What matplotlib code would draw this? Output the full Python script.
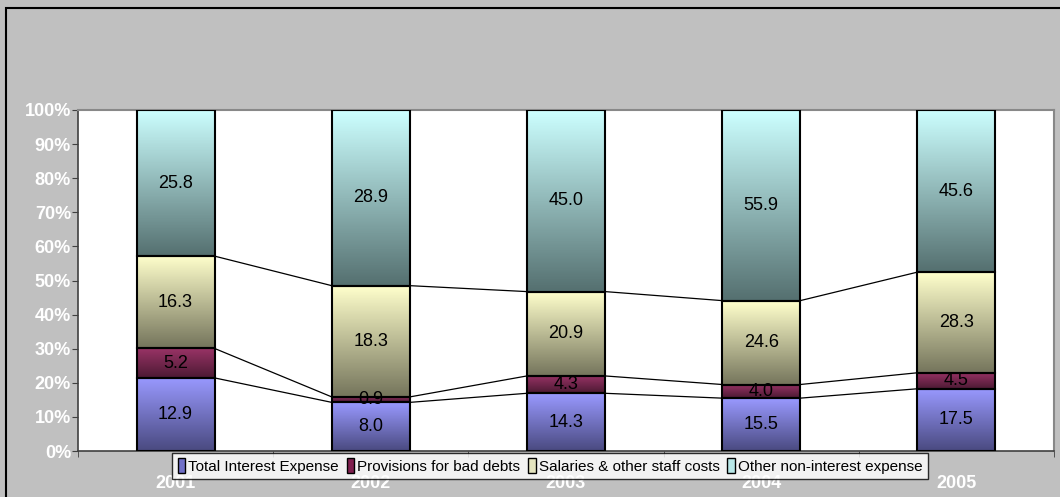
import numpy as np
import matplotlib.pyplot as plt
import matplotlib.patches as mpatches
from matplotlib.colors import LinearSegmentedColormap
from matplotlib import font_manager

years = ["2001", "2002", "2003", "2004", "2005"]
interest = [12.9, 8.0, 14.3, 15.5, 17.5]
provisions = [5.2, 0.9, 4.3, 4.0, 4.5]
salaries = [16.3, 18.3, 20.9, 24.6, 28.3]
other = [25.8, 28.9, 45.0, 55.9, 45.6]
names = ["Total Interest Expense", "Provisions for bad debts",
         "Salaries & other staff costs", "Other non-interest expense"]

# (top colour, bottom colour) for each series
grads = [("#9999FF", "#4A4A80"), ("#993366", "#4C1A33"),
         ("#FFFFCC", "#75755C"), ("#CCFFFF", "#557070")]

avail = {f.name for f in font_manager.fontManager.ttflist}
fam = "Liberation Sans Narrow" if "Liberation Sans Narrow" in avail else "Liberation Sans"
plt.rcParams["font.family"] = [fam, "DejaVu Sans"]

series = np.array([interest, provisions, salaries, other])
pct = series / series.sum(axis=0) * 100
x = np.arange(len(years))
w = 0.4

fig = plt.figure(figsize=(10.6, 4.97), dpi=100, facecolor="#C0C0C0")
ax = fig.add_axes([78 / 1060, 46 / 497, 976 / 1060, 341 / 497])
ax.set_facecolor("white")

bottoms = np.zeros(len(years))
for i in range(4):
    cmap = LinearSegmentedColormap.from_list("g%d" % i, [grads[i][1], grads[i][0]])
    bars = ax.bar(x, pct[i], w, bottom=bottoms, color="none",
                  edgecolor="black", linewidth=1.5, zorder=3)
    for j, b in enumerate(bars):
        y0, y1 = bottoms[j], bottoms[j] + pct[i][j]
        grad = np.linspace(0, 1, 100).reshape(-1, 1)
        ax.imshow(grad, cmap=cmap, origin="lower", aspect="auto",
                  extent=[x[j] - w / 2, x[j] + w / 2, y0, y1], zorder=2)
        ax.text(x[j], (y0 + y1) / 2, "%.1f" % series[i][j], ha="center",
                va="center", fontsize=13, color="black", zorder=4)
    tops = bottoms + pct[i]
    if i < 3:
        for j in range(len(years) - 1):
            ax.plot([x[j] + w / 2, x[j + 1] - w / 2], [tops[j], tops[j + 1]],
                    color="black", lw=0.9, zorder=1)
    bottoms = tops

ax.set_xlim(-0.5, len(years) - 0.5)
ax.set_ylim(0, 100)
ax.set_yticks(np.arange(0, 101, 10))
ax.set_yticklabels(["%d%%" % v for v in range(0, 101, 10)])
ax.set_xticks(x)
ax.set_xticklabels(years)
ax.set_xticks(np.arange(-0.5, len(years)), minor=True)
ax.tick_params(axis="x", which="major", length=0, pad=17, colors="white",
               labelsize=13)
ax.tick_params(axis="x", which="minor", length=4, color="#404040", direction="out")
ax.tick_params(axis="y", length=4, color="#404040", colors="white", labelsize=13,
               pad=1)
for lab in ax.get_xticklabels() + ax.get_yticklabels():
    lab.set_fontweight("bold")
ax.spines["left"].set_color("#404040")
ax.spines["bottom"].set_color("#404040")
ax.spines["left"].set_linewidth(1.2)
ax.spines["bottom"].set_linewidth(1.2)
for s in ["top", "right"]:
    ax.spines[s].set_color("#888888")
    ax.spines[s].set_linewidth(1.5)

handles = [mpatches.Patch(edgecolor="black") for i in range(4)]
handles[0].set_facecolor("#7070C8")
handles[1].set_facecolor("#80204F")
handles[2].set_facecolor("#E5E5BF")
handles[3].set_facecolor("#B8E8E8")
leg = fig.legend(handles, names, loc="center", bbox_to_anchor=(550 / 1060, 1 - 466 / 497),
                 ncol=4, frameon=True, fancybox=False, fontsize=11,
                 handlelength=0.5, handleheight=1.1, handletextpad=0.2,
                 columnspacing=0.5, borderpad=0.35, borderaxespad=0)
leg.get_frame().set_edgecolor("black")
leg.get_frame().set_linewidth(1.0)
leg.set_zorder(10)

fig.patches.append(mpatches.Rectangle((6 / 1060, -0.1), 1.2, 1 - 8 / 497 + 0.1,
                                      transform=fig.transFigure, fill=False,
                                      edgecolor="black", lw=1.5))

fig.savefig("out.png", dpi=100, facecolor=fig.get_facecolor())
